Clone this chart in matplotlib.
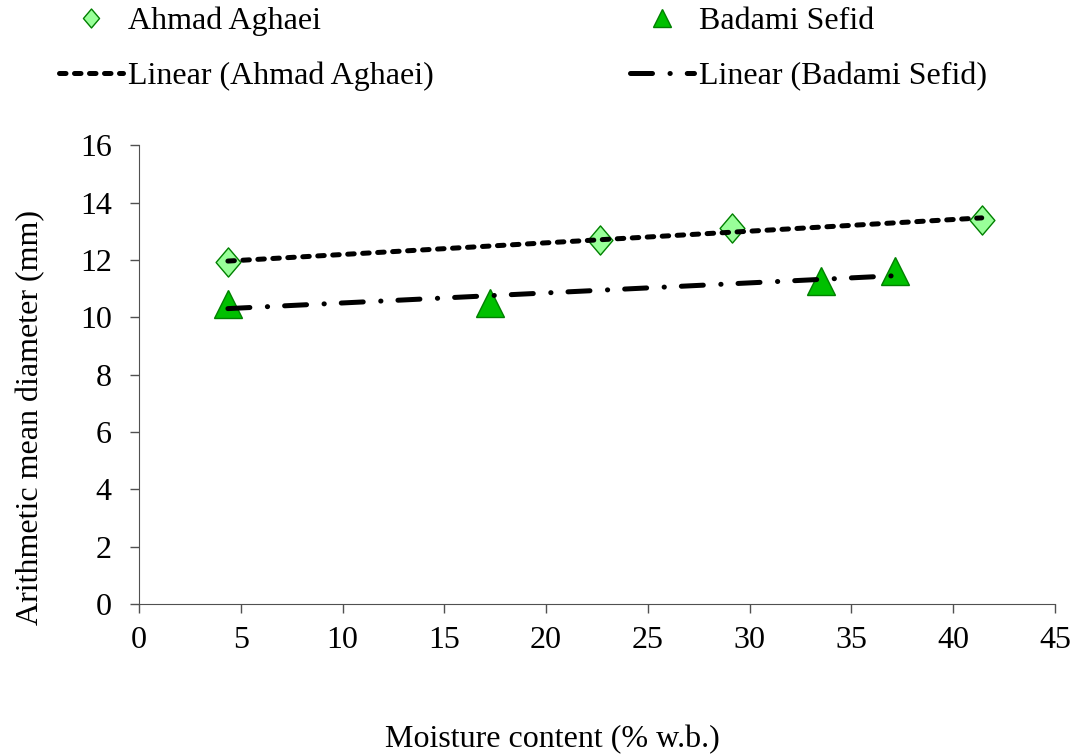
import numpy as np
import matplotlib
matplotlib.use("Agg")
import matplotlib.pyplot as plt
from matplotlib.path import Path

# Moisture content (% w.b.) and arithmetic mean diameter (mm)
ahmad_x = [4.37, 22.64, 29.13, 41.4]
ahmad_y = [11.92, 12.69, 13.10, 13.38]
badami_x = [4.37, 17.24, 33.5, 37.13]
badami_y = [10.46, 10.50, 11.26, 11.60]

x_ticks = [0, 5, 10, 15, 20, 25, 30, 35, 40, 45]
y_ticks = [0, 2, 4, 6, 8, 10, 12, 14, 16]

plt.rcParams["font.family"] = ["Liberation Serif", "DejaVu Serif"]
FS = 23
AXIS_COLOR = "#505050"

fig = plt.figure(figsize=(10.77, 7.56), dpi=100)
ax = fig.add_axes([0.129, 0.201, 0.8506, 0.607])

# diamond marker, slightly narrower than tall
diamond = Path([(0, 1), (0.85, 0), (0, -1), (-0.85, 0), (0, 1)],
               [Path.MOVETO, Path.LINETO, Path.LINETO, Path.LINETO, Path.CLOSEPOLY])

lw = 3.6
# linear trend lines (least squares)
pa = np.polyfit(ahmad_x, ahmad_y, 1)
pb = np.polyfit(badami_x, badami_y, 1)
xa = np.array([min(ahmad_x), max(ahmad_x)])
xb = np.array([min(badami_x), max(badami_x)])

ha, = ax.plot(ahmad_x, ahmad_y, linestyle="none", marker=diamond, markersize=21,
              markerfacecolor="#99FF99", markeredgecolor="#008000",
              markeredgewidth=1.0, zorder=3, label="Ahmad Aghaei")
hb, = ax.plot(badami_x, badami_y, linestyle="none", marker="^", markersize=20,
              markerfacecolor="#00C000", markeredgecolor="#008000",
              markeredgewidth=1.0, zorder=3, label="Badami Sefid")
la, = ax.plot(xa, np.polyval(pa, xa), color="black", linewidth=lw,
              linestyle=(0, (1.3, 1.7)), dash_capstyle="round", zorder=4,
              label="Linear (Ahmad Aghaei)")
lb, = ax.plot(xb, np.polyval(pb, xb), color="black", linewidth=lw,
              linestyle=(0, (4.4, 3.5, 0.05, 3.4)), dash_capstyle="round", zorder=4,
              label="Linear (Badami Sefid)")

ax.set_xlim(0, 45)
ax.set_ylim(0, 16)
ax.set_xticks(x_ticks)
ax.set_yticks(y_ticks)
ax.tick_params(labelsize=FS, direction="out", length=6.5, width=1, color=AXIS_COLOR)
ax.tick_params(axis="y", pad=13)
ax.tick_params(axis="x", pad=9)
for s in ["top", "right"]:
    ax.spines[s].set_visible(False)
for s in ["left", "bottom"]:
    ax.spines[s].set_color(AXIS_COLOR)

fig.text(0.028, 0.448, "Arithmetic mean diameter (mm)", rotation=90,
         fontsize=FS, ha="center", va="center")
fig.text(0.513, 0.022, "Moisture content (% w.b.)", fontsize=FS,
         ha="center", va="center")

leg = fig.legend(handles=[ha, la, hb, lb], ncol=2, loc="upper left",
                 bbox_to_anchor=(0.028, 1.029), frameon=False, fontsize=FS,
                 handlelength=2.0, handletextpad=0.15, columnspacing=6.16,
                 labelspacing=0.79, markerscale=0.65)

fig.savefig("out.png", dpi=100)
